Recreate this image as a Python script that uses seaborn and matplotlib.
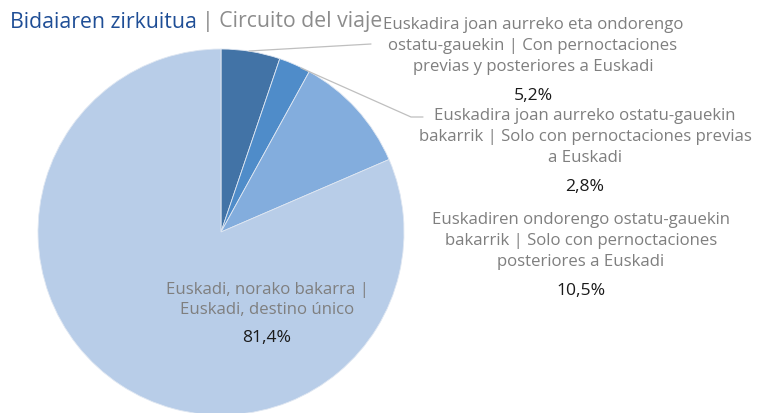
import matplotlib
matplotlib.use("Agg")
import matplotlib.pyplot as plt
import seaborn as sns

sns.set_style("white")
plt.rcParams['font.family'] = ['Open Sans', 'DejaVu Sans']

categories = [
    "Euskadira joan aurreko eta ondorengo\nostatu-gauekin | Con pernoctaciones\nprevias y posteriores a Euskadi",
    "Euskadira joan aurreko ostatu-gauekin\nbakarrik | Solo con pernoctaciones previas\na Euskadi",
    "Euskadiren ondorengo ostatu-gauekin\nbakarrik | Solo con pernoctaciones\nposteriores a Euskadi",
    "Euskadi, norako bakarra |\nEuskadi, destino único",
]
values = [5.2, 2.8, 10.5, 81.4]
value_labels = ["5,2%", "2,8%", "10,5%", "81,4%"]
colors = ["#4273a6", "#4f8cc9", "#83addd", "#b8cde8"]

W, H = 759, 414
fig = plt.figure(figsize=(W / 100, H / 100), dpi=100)
ax = fig.add_axes([0, 0, 1, 1])

cx, cy, r = 221, H - 233, 183
wedges, _ = ax.pie(values, colors=colors, startangle=90, counterclock=False,
                   center=(cx, cy), radius=r, frame=True,
                   wedgeprops=dict(edgecolor="#dfe7f2", linewidth=0.6))
ax.set_xlim(0, W)
ax.set_ylim(0, H)
ax.set_aspect('equal')
ax.axis('off')

gray = "#7f7f7f"
fs = 12.1
# label positions (pixel, y from top)
lab_pos = [(533, 46), (585, 137), (581, 241), (267, 300)]
val_pos = [(533, 96), (585, 187), (581, 291), (267, 338)]
for i in range(4):
    x, y = lab_pos[i]
    ax.text(x, H - y, categories[i], ha='center', va='center', fontsize=fs,
            color=gray, linespacing=1.38)
    x, y = val_pos[i]
    ax.text(x, H - y, value_labels[i], ha='center', va='center', fontsize=12.6,
            color="#1a1a1a")

# leader lines
ax.plot([249, 371], [H - 52, H - 45], color="#bfbfbf", lw=0.9)
ax.plot([301, 411, 423], [H - 69, H - 118, H - 118], color="#bfbfbf", lw=0.9)

# title
t1 = fig.text(10 / W, 1 - 22 / H, "Bidaiaren zirkuitua", fontsize=15.3, color="#1f4e96",
              ha='left', va='center')
fig.canvas.draw()
bb = t1.get_window_extent(fig.canvas.get_renderer())
fig.text((bb.x1 + 5) / W, 1 - 22 / H, "| Circuito del viaje", fontsize=15.3,
         color="#8c8c8c", ha='left', va='center')

fig.savefig("out.png", dpi=100)
